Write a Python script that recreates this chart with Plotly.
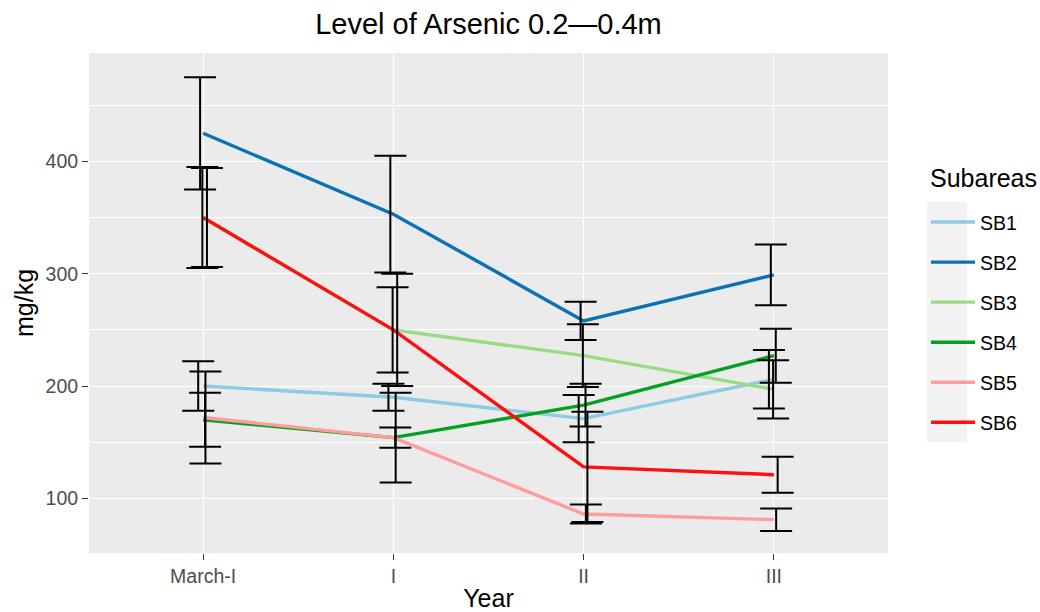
import plotly.graph_objects as go

categories = ["March-I", "I", "II", "III"]
series_names = ["SB1", "SB2", "SB3", "SB4", "SB5", "SB6"]
sb1 = [200, 190, 171, 206]
sb2 = [425, 353, 258, 299]
sb3 = [350, 250, 227, 197]
sb4 = [170, 154, 183, 227]
sb5 = [172, 154, 86, 81]
sb6 = [350, 250, 128, 121]
sb1_err = [22, 12, 21, 26]
sb2_err = [50, 52, 17, 27]
sb3_err = [45, 38, 28, 26]
sb4_err = [24, 9, 19, 24]
sb5_err = [41, 40, 8.5, 10]
sb6_err = [44, 50, 49, 16]

values = [sb1, sb2, sb3, sb4, sb5, sb6]
errors = [sb1_err, sb2_err, sb3_err, sb4_err, sb5_err, sb6_err]
colors = ["#8ECAE4", "#0A72B5", "#98DC82", "#06A021", "#FF9C9C", "#FF1010"]
dodge = [-0.026, -0.016, -0.004, 0.01, 0.012, 0.02]

FONT = "Liberation Sans, Arial, sans-serif"
xpos = list(range(len(categories)))

fig = go.Figure()
for name, vals, col in zip(series_names, values, colors):
    fig.add_trace(go.Scatter(
        x=xpos, y=vals, mode="lines", name=name,
        line=dict(color=col, width=3.4),
        legendgroup=name,
    ))
for name, vals, errs, dx in zip(series_names, values, errors, dodge):
    fig.add_trace(go.Scatter(
        x=[p + dx for p in xpos], y=vals, mode="markers",
        marker=dict(size=1, color="rgba(0,0,0,0)"),
        error_y=dict(type="data", array=errs, visible=True, color="black",
                     thickness=2, width=16),
        showlegend=False, hoverinfo="skip",
    ))

# legend key background
fig.add_shape(type="rect", xref="paper", yref="paper",
              x0=(927 - 89) / 799, x1=(967 - 89) / 799,
              y0=(552.7 - 442) / 499.4, y1=(552.7 - 202) / 499.4,
              fillcolor="#F2F2F2", line_width=0, layer="below")
# legend title
fig.add_annotation(text="Subareas", xref="paper", yref="paper",
                   x=(928 - 89) / 799, y=(552.7 - 178) / 499.4,
                   xanchor="left", yanchor="middle", showarrow=False,
                   font=dict(size=25, color="black", family=FONT))

fig.update_layout(
    width=1040, height=612,
    margin=dict(l=89, r=152, t=53, b=59, autoexpand=False),
    paper_bgcolor="white", plot_bgcolor="#EBEBEB",
    font=dict(family=FONT, color="black"),
    title=dict(text="Level of Arsenic 0.2\u20140.4m", x=0.5, xref="paper",
               y=1 - 24 / 612, yref="container", yanchor="middle",
               xanchor="center", font=dict(size=29, color="black")),
    showlegend=True,
    legend=dict(
        font=dict(size=19.5),
        x=(926 - 89) / 799, xanchor="left",
        y=(552.7 - 203) / 499.4, yanchor="top",
        bgcolor="rgba(0,0,0,0)", tracegroupgap=11.7,
        itemwidth=44,
    ),
)
fig.update_xaxes(
    range=[-0.6, 3.6], tickvals=xpos, ticktext=categories,
    showgrid=True, gridcolor="white", gridwidth=1.4, zeroline=False,
    ticks="outside", ticklen=6, tickcolor="#333333", tickwidth=1.2,
    tickfont=dict(size=19.5, color="#4D4D4D"),
    title=dict(text="Year", font=dict(size=25), standoff=6),
    automargin=False, showline=False,
)
fig.update_yaxes(
    range=[51.3, 496.5], tickvals=[100, 200, 300, 400],
    showgrid=True, gridcolor="white", gridwidth=1.4, zeroline=False,
    minor=dict(tickvals=[150, 250, 350, 450], showgrid=True, gridcolor="white", gridwidth=0.7),
    ticks="outside", ticklen=6, tickcolor="#333333", tickwidth=1.2,
    tickfont=dict(size=19.5, color="#4D4D4D"),
    title=dict(text="mg/kg", font=dict(size=25), standoff=4),
    automargin=False, showline=False,
)

fig.write_html("out.html", config={"displayModeBar": False},
               post_script="document.body.style.margin='0';document.body.style.padding='0';")
